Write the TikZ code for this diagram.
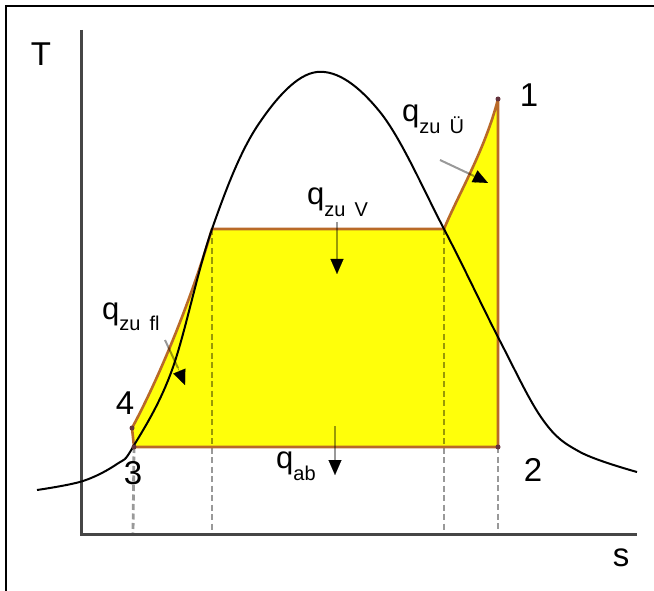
\documentclass[tikz,border=0pt]{standalone}
\usepackage{fontspec}
\setmainfont{Liberation Sans}
\usetikzlibrary{arrows.meta}
\definecolor{fillY}{RGB}{255,255,10}
\definecolor{edgeB}{RGB}{185,105,40}
\definecolor{axisG}{RGB}{70,70,70}
\definecolor{dotC}{RGB}{100,50,60}
\newcommand\qlbl[1]{q\raisebox{-12pt}{\fontsize{20}{22}\selectfont #1}}
\begin{document}
\begin{tikzpicture}[x=1pt,y=-1pt,
  edge/.style={draw=edgeB,line width=2.6pt,line join=round},
  curveline/.style={draw=black,line width=2pt},
  axisline/.style={draw=axisG,line width=3pt},
  dashline/.style={draw=black,draw opacity=0.4,line width=2.8pt,dash pattern=on 6pt off 3.5pt},
  shaft/.style={draw=black,draw opacity=0.4,line width=2pt},
  tipline/.style={-{Triangle[length=15pt,width=13pt]},line width=0.1pt,black},
  big/.style={inner sep=0pt,font=\fontsize{33}{36}\selectfont},
  qtext/.style={inner sep=0pt,anchor=base west,font=\fontsize{31}{34}\selectfont}]
\useasboundingbox (0,0) rectangle (654,591);
\fill[white] (0,0) rectangle (654,591);
% frame
\draw[black,line width=2.5pt] (6,591) -- (6,6) -- (654,6);
% points
\coordinate (P1) at (498,99);
\coordinate (P2) at (498,447);
\coordinate (P3) at (134,447);
\coordinate (P4) at (132,428);
\coordinate (L) at (212,229);
\coordinate (R) at (444,229);
% fill
\fill[fillY] (P3) -- (P4) .. controls (150,395) and (185,320) .. (L) -- (R)
  .. controls (458,195) and (485,150) .. (P1) -- (P2) -- cycle;
% dashed
\coordinate (A1) at (133,534); \coordinate (A2) at (212,534);
\coordinate (A3) at (444,534); \coordinate (A4) at (498,534);
\draw[dashline] (P3) -- (A1);
\draw[dashline] (L) -- (A2);
\draw[dashline] (R) -- (A3);
\draw[dashline] (P2) -- (A4);
% axes
\coordinate (Ttop) at (81,30); \coordinate (O) at (81,534); \coordinate (Send) at (637,534);
\draw[axisline] (Ttop) -- (O) -- (Send);
% edges
\draw[edge] (P4) .. controls (150,395) and (185,320) .. (L) -- (R)
  .. controls (458,195) and (485,150) .. (P1) -- (P2) -- (P3) -- (P4);
% saturation curve
\draw[curveline] plot[smooth,tension=0.6] coordinates {(37,490) (83,481) (117,464) (133,447) (172,370) (212,229) (258,125) (317,72) (380,112) (444,229) (500,341) (543,420) (580,452) (637,472)};
% state dots
\foreach \p in {P1,P2,P3,P4} \fill[dotC] (\p) circle (2.5pt);
% arrows
\coordinate (V0) at (337,222); \coordinate (V1) at (337,262); \coordinate (V2) at (337,274);
\draw[shaft] (V0) -- (V1);
\draw[tipline] (V1) -- (V2);
\coordinate (B0) at (335,426); \coordinate (B1) at (335,462); \coordinate (B2) at (335,475);
\draw[shaft] (B0) -- (B1);
\draw[tipline] (B1) -- (B2);
\coordinate (U0) at (440,160); \coordinate (U1) at (474,176); \coordinate (U2) at (488,183);
\draw[shaft] (U0) -- (U1);
\draw[tipline] (U1) -- (U2);
\coordinate (F0) at (165,340); \coordinate (F1) at (178,368); \coordinate (F2) at (185,385);
\draw[shaft] (F0) -- (F1);
\draw[tipline] (F1) -- (F2);
% labels
\node[big] (lT) at (41,54) {T};
\node[big] (ls) at (621,558) {s};
\node[big] (l1) at (529,95) {1};
\node[big] (l2) at (533,470) {2};
\node[big] (l3) at (133,473) {3};
\node[big] (l4) at (125,403) {4};
\node[qtext] (qv) at (307,205) {\qlbl{zu\hspace{9pt}V}};
\node[qtext] (qu) at (402,122) {\qlbl{zu\hspace{9pt}Ü}};
\node[qtext] (qf) at (102,319) {\qlbl{zu\hspace{9pt}fl}};
\node[qtext] (qa) at (276,468) {\qlbl{ab}};
\end{tikzpicture}
\end{document}
